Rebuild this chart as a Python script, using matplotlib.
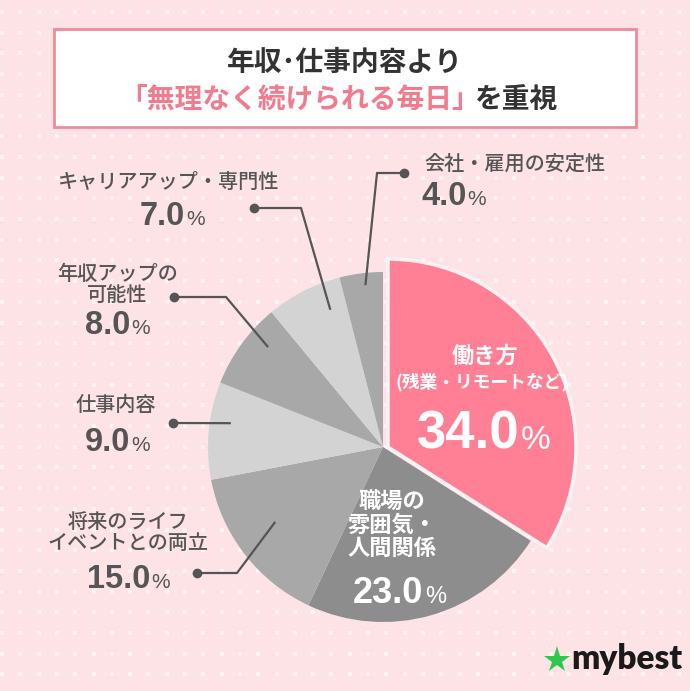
import matplotlib
matplotlib.use('Agg')
import matplotlib.pyplot as plt
from matplotlib.patches import Rectangle
import numpy as np

# ---------------- data ----------------
categories = ['働き方\n(残業・リモートなど)', '職場の\n雰囲気・\n人間関係',
              '将来のライフ\nイベントとの両立', '仕事内容', '年収アップの\n可能性',
              'キャリアアップ・専門性', '会社・雇用の安定性']
values = [34.0, 23.0, 15.0, 9.0, 8.0, 7.0, 4.0]
slice_colors = ['#ff7f95', '#8d8d8d', '#a8a8a8', '#d3d3d3', '#a8a8a8', '#d3d3d3', '#a8a8a8']
title_line1 = '年収･仕事内容より'
title_line2_hl = '「無理なく続けられる毎日」'
title_line2_rest = 'を重視'
brand = 'mybest'

# ---------------- style ----------------
W, H = 690, 691
BG = '#fde3e6'
PINK_TXT = '#f27b8e'
DARK = '#333333'
LABEL = '#555555'
JP = ['Noto Sans CJK JP', 'DejaVu Sans']
NUM = ['Liberation Sans', 'DejaVu Sans']

fig = plt.figure(figsize=(W / 100, H / 100), dpi=100)
fig.patch.set_facecolor(BG)
ax = fig.add_axes([0, 0, 1, 1])
ax.set_facecolor(BG)

def Y(y):
    return H - y

# dotted background
gx = np.arange(2, W, 18.3)
gy = np.arange(12, H, 20.7)
GX, GY = np.meshgrid(gx, gy)
ax.scatter(GX.ravel(), Y(GY.ravel()), s=5, marker='s', color='white', alpha=0.55,
           linewidths=0, zorder=0)

# title box
ax.add_patch(Rectangle((54, Y(127)), 582, 98, facecolor='white', edgecolor='#f08a9a',
                       linewidth=2, zorder=2))

# pie
cx, cy, R = 383, 447, 175
wedges, _ = ax.pie(values, colors=slice_colors, startangle=90, counterclock=False,
                   center=(cx, Y(cy)), radius=R, frame=True,
                   wedgeprops=dict(linewidth=0))
for w in wedges:
    w.set_zorder(3)
pink = wedges[0]
pink.set_center((cx + 5, Y(cy)))
pink.set_radius(188)
pink.set_edgecolor('#fff2f4')
pink.set_linewidth(2.5)
pink.set_zorder(4)

ax.set_xlim(0, W)
ax.set_ylim(0, H)
ax.set_aspect('auto')
ax.axis('off')

renderer = fig.canvas.get_renderer()

# title
ax.text(345, Y(63), title_line1, family=JP, fontsize=20, fontweight='bold', color=DARK,
        ha='center', va='center', zorder=5)
t1 = ax.text(0, Y(100), title_line2_hl, family=JP, fontsize=20, fontweight='bold',
             color=PINK_TXT, ha='left', va='center', zorder=5)
t2 = ax.text(0, Y(100), title_line2_rest, family=JP, fontsize=20, fontweight='bold',
             color=DARK, ha='left', va='center', zorder=5)
w1 = t1.get_window_extent(renderer).width
w2 = t2.get_window_extent(renderer).width
x0 = 345 - (w1 + w2) / 2 - 4
t1.set_x(x0)
t2.set_x(x0 + w1 - 6)


def pct_text(xc, yc, value, size, psize, color):
    base = Y(yc) - 0.716 * size * 100 / 72 / 2
    a = ax.text(0, base, f'{value:.1f}', family=NUM, fontsize=size, fontweight='bold',
                color=color, ha='left', va='baseline', zorder=6)
    b = ax.text(0, base, '%', family=NUM, fontsize=psize, color=color,
                ha='left', va='baseline', zorder=6)
    wa = a.get_window_extent(renderer).width
    wb = b.get_window_extent(renderer).width
    xs = xc - (wa + wb) / 2
    a.set_x(xs)
    b.set_x(xs + wa + 1)


def label(xc, yc, text, color, size=14.5, ha='center', weight='medium', ls=1.15):
    ax.text(xc, Y(yc), text, family=JP, fontsize=size, fontweight=weight, color=color,
            ha=ha, va='center', linespacing=ls, zorder=6, multialignment='center')


# inside labels
l0, l1 = categories[0].split('\n')
label(485, 356, l0, 'white', size=16, weight='bold')
label(482, 382, l1, 'white', size=12.8, weight='bold')
pct_text(483, 430, values[0], 38, 24, 'white')
label(392, 525, categories[1], 'white', size=16, weight='bold', ls=1.0)
pct_text(399, 590, values[1], 26, 17, 'white')

# outside labels
label(424, 164, categories[6], LABEL, ha='left')
pct_text(453, 193, values[6], 23.5, 15, LABEL)
label(169, 182, categories[5], LABEL)
pct_text(172, 213, values[5], 23.5, 15, LABEL)
label(117, 285, categories[4], LABEL, ls=1.15)
pct_text(117, 322, values[4], 23.5, 15, LABEL)
label(116, 405, categories[3], LABEL)
pct_text(117, 439, values[3], 23.5, 15, LABEL)
label(128, 533, categories[2], LABEL, ls=1.15)
pct_text(128, 576, values[2], 23.5, 15, LABEL)

# leader lines: dot, elbow, then end inside the slice at its mid angle
leaders = {
    6: ((404, 173), (377, 173), 0.93, -1.0),
    5: ((254, 208), (301, 208), 0.84, -6.0),
    4: ((174, 297), (226, 297), 0.87, -5.0),
    3: ((173, 423), None, 0.88, -3.5),
    2: ((197, 573), (237, 573), 0.75, -3.0),
}
for idx, (dot, elbow, rf, dang) in leaders.items():
    w = wedges[idx]
    mid = np.deg2rad((w.theta1 + w.theta2) / 2 + dang)
    ex = cx + R * rf * np.cos(mid)
    ey = Y(cy) + R * rf * np.sin(mid)
    xs = [dot[0]]
    ys = [Y(dot[1])]
    if elbow is not None:
        xs.append(elbow[0]); ys.append(Y(elbow[1]))
    xs.append(ex); ys.append(ey)
    ax.plot(xs, ys, color=LABEL, linewidth=1.6, zorder=7, solid_capstyle='butt')
    ax.plot([dot[0]], [Y(dot[1])], 'o', color=LABEL, markersize=6, zorder=7)

# brand logo
ax.plot([557], [Y(660)], marker='*', color='#2ec84f', markersize=20, zorder=6,
        markeredgewidth=0)
ax.text(571, Y(659), brand, family=['Lato', 'DejaVu Sans'], fontsize=24, fontweight='heavy',
        color='#1a1a1a', ha='left', va='center', zorder=6)

fig.savefig('out.png', dpi=100, facecolor=BG)
